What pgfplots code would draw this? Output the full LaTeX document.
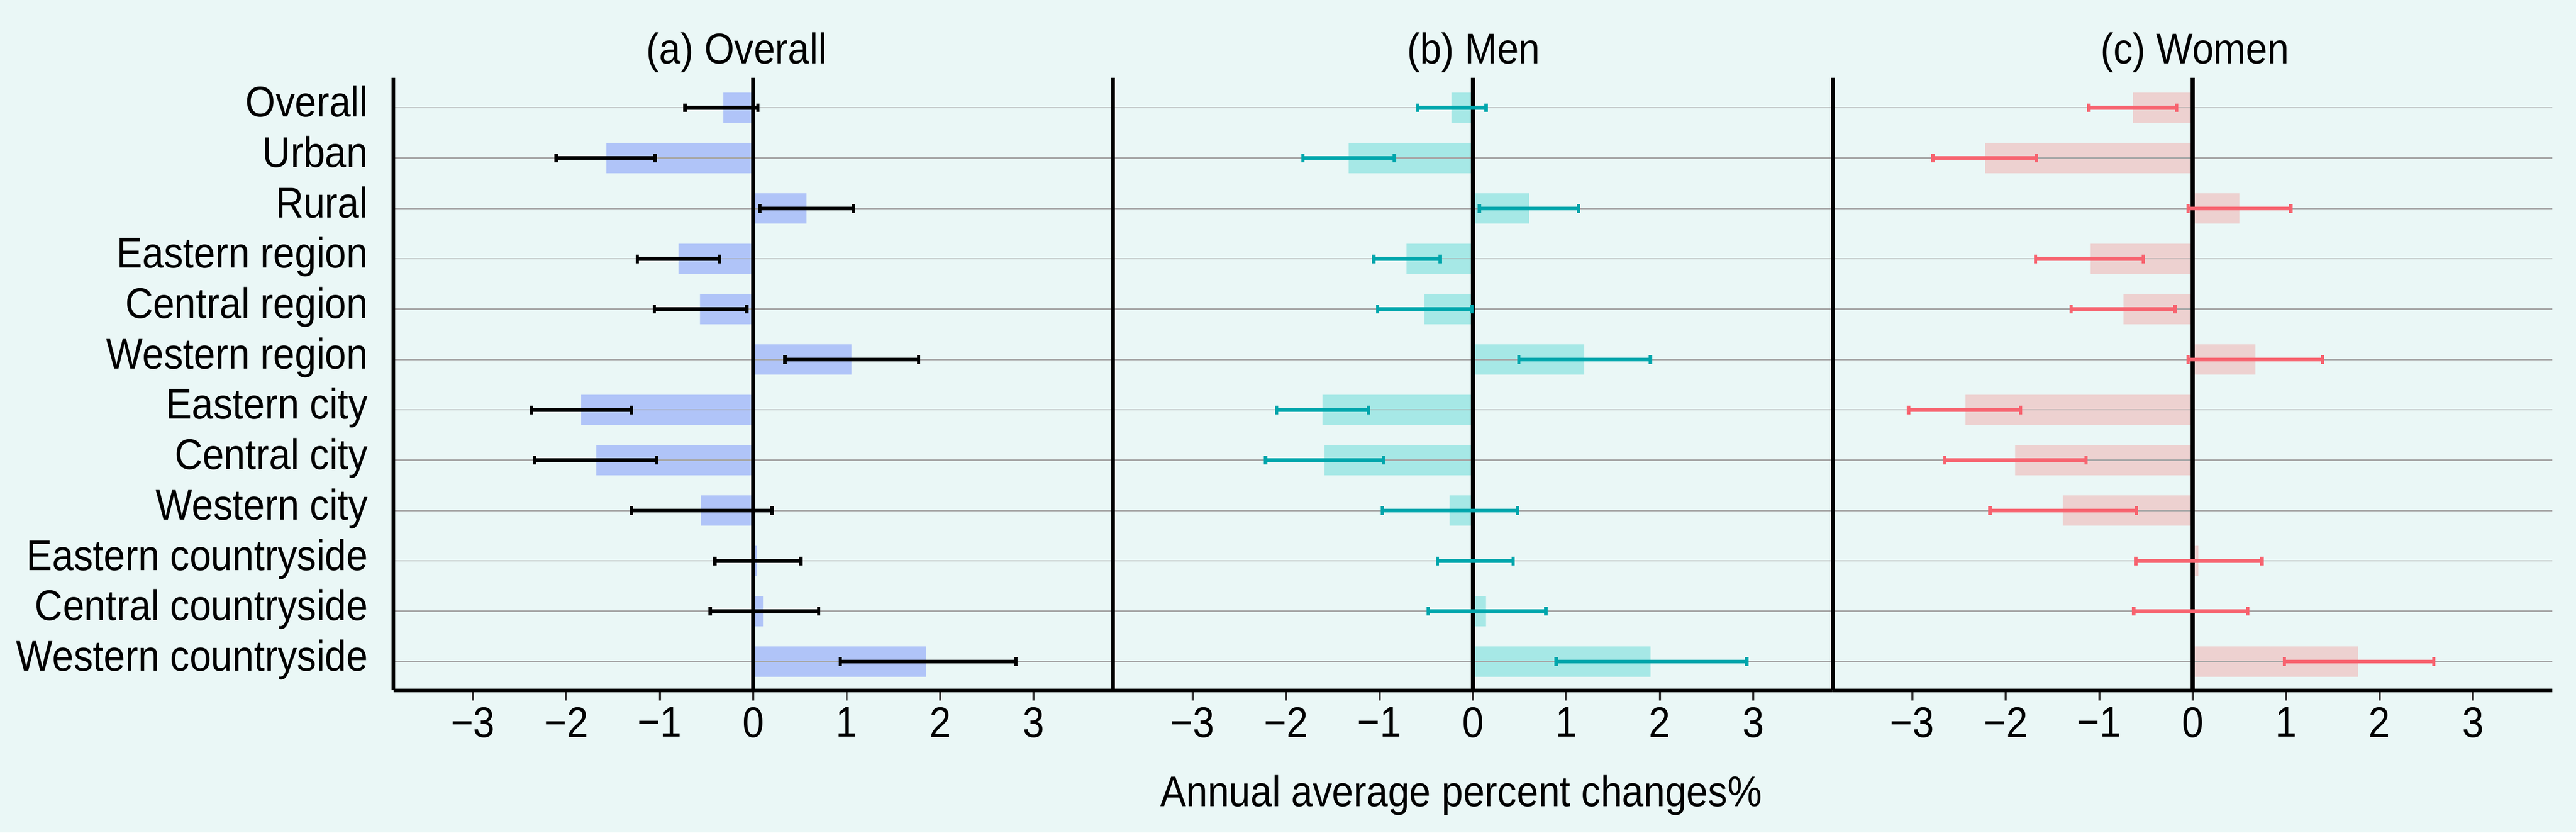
\documentclass[border=0pt]{standalone}
\usepackage{fontspec}
\setmainfont{Liberation Sans}[FakeStretch=0.9]
\usepackage{pgfplots}
\usepackage{pgfplotstable}
\pgfplotsset{compat=1.18}

\definecolor{bg}{HTML}{EAF7F6}
\definecolor{barA}{HTML}{B0C4F8}
\definecolor{barB}{HTML}{A6E8E6}
\definecolor{barC}{HTML}{EDD1D0}
\definecolor{errB}{HTML}{00A6AC}
\definecolor{errC}{HTML}{F7636F}
\definecolor{gridc}{HTML}{A8A8A8}
\definecolor{tickc}{HTML}{333333}

\pgfplotstableread{
y v lo hi
0 -0.32 -0.73 0.05
1 -1.57 -2.11 -1.05
2 0.57 0.07 1.07
3 -0.80 -1.24 -0.36
4 -0.57 -1.06 -0.07
5 1.05 0.34 1.77
6 -1.84 -2.37 -1.30
7 -1.68 -2.34 -1.03
8 -0.56 -1.30 0.20
9 0.04 -0.41 0.51
10 0.11 -0.46 0.70
11 1.85 0.93 2.81
}\tabA

\pgfplotstableread{
y v lo hi
0 -0.23 -0.59 0.14
1 -1.33 -1.82 -0.84
2 0.60 0.07 1.13
3 -0.71 -1.06 -0.35
4 -0.52 -1.02 -0.01
5 1.19 0.49 1.90
6 -1.61 -2.10 -1.12
7 -1.59 -2.22 -0.96
8 -0.25 -0.97 0.48
9 0.02 -0.38 0.43
10 0.14 -0.48 0.78
11 1.90 0.89 2.93
}\tabB

\pgfplotstableread{
y v lo hi
0 -0.64 -1.11 -0.17
1 -2.22 -2.78 -1.67
2 0.50 -0.05 1.05
3 -1.09 -1.68 -0.53
4 -0.74 -1.30 -0.19
5 0.67 -0.05 1.39
6 -2.43 -3.04 -1.84
7 -1.90 -2.65 -1.14
8 -1.39 -2.17 -0.60
9 0.06 -0.61 0.74
10 0.00 -0.63 0.59
11 1.77 0.98 2.58
}\tabC

\pgfplotsset{
  panel/.style={scale only axis, width=214.5pt, height=182.375pt,
    xmin=-3.85, xmax=3.85, ymin=-0.59, ymax=11.57, y dir=reverse,
    anchor=south west},
  base/.style={panel,
    axis x line*=bottom, axis y line*=left,
    axis line style={-, line width=1.1pt, black},
    ytick={0,...,11}, ymajorgrids,
    grid style={line width=0.4pt, gridc},
    xtick={-3,...,3},
    xticklabels={−3,−2,−1,0,1,2,3},
    xticklabel style={yshift=2.5pt},
    tick align=outside, major tick length=3.1pt,
    x tick style={line width=0.6pt, tickc},
    y tick style={draw=none},
    extra x ticks={0}, extra x tick labels={},
    extra x tick style={grid=major, major grid style={line width=1.1pt, black}, tick style={draw=none}},
    axis on top},
  errs/.style={draw=none, mark=none, error bars/.cd, x dir=both, x explicit,
    error mark=|,
    error bar style={draw=#1, solid, line width=1.15pt},
    error mark options={draw=#1, solid, line width=1pt, mark size=1.3pt}},
}

\begin{document}
\fontsize{12.8}{15}\selectfont
\begin{tikzpicture}
\useasboundingbox (0,0) rectangle (767.75pt,248pt);
\fill[bg] (0,0) rectangle (767.75pt,248pt);

% Panel (a)
\begin{axis}[base, at={(117.25pt,42.375pt)},
  every axis title/.style={at={(0.477,1)}, anchor=base, yshift=4.25pt},
  title={(a) Overall},
  yticklabels={Overall, Urban, Rural, Eastern region, Central region, Western region, Eastern city, Central city, Western city, Eastern countryside, Central countryside, Western countryside},
  yticklabel style={anchor=base east, yshift=-2.75pt}]
\addplot[xbar, bar width=0.6, fill=barA, draw=none] table[x=v, y=y]{\tabA};
\end{axis}
\begin{axis}[panel, hide axis, at={(117.25pt,42.375pt)}]
\addplot[errs=black]
  table[x=v, y=y, x error plus expr=\thisrow{hi}-\thisrow{v}, x error minus expr=\thisrow{v}-\thisrow{lo}]{\tabA};
\end{axis}

% Panel (b)
\begin{axis}[base, at={(331.75pt,42.375pt)},
  every axis title/.style={at={(0.501,1)}, anchor=base, yshift=4.25pt},
  title={(b) Men},
  yticklabels={},
  every axis x label/.style={at={(0.4837,0)}, anchor=base, yshift=-34.6pt},
  xlabel={Annual average percent changes\%}]
\addplot[xbar, bar width=0.6, fill=barB, draw=none] table[x=v, y=y]{\tabB};
\end{axis}
\begin{axis}[panel, hide axis, at={(331.75pt,42.375pt)}]
\addplot[errs=errB]
  table[x=v, y=y, x error plus expr=\thisrow{hi}-\thisrow{v}, x error minus expr=\thisrow{v}-\thisrow{lo}]{\tabB};
\end{axis}

% Panel (c)
\begin{axis}[base, at={(546.25pt,42.375pt)},
  every axis title/.style={at={(0.503,1)}, anchor=base, yshift=4.25pt},
  title={(c) Women},
  yticklabels={}]
\addplot[xbar, bar width=0.6, fill=barC, draw=none] table[x=v, y=y]{\tabC};
\end{axis}
\begin{axis}[panel, hide axis, at={(546.25pt,42.375pt)}]
\addplot[errs=errC]
  table[x=v, y=y, x error plus expr=\thisrow{hi}-\thisrow{v}, x error minus expr=\thisrow{v}-\thisrow{lo}]{\tabC};
\end{axis}
\end{tikzpicture}
\end{document}
